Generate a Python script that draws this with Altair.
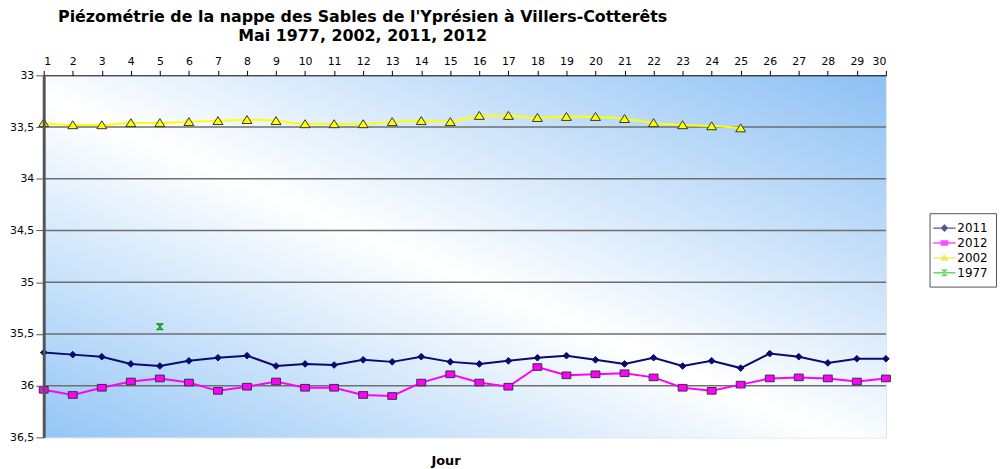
import altair as alt
import pandas as pd

days = list(range(1, 31))
v2011 = [35.68, 35.70, 35.72, 35.79, 35.81, 35.76, 35.73, 35.71, 35.81, 35.79,
         35.80, 35.75, 35.77, 35.72, 35.77, 35.79, 35.76, 35.73, 35.71, 35.75,
         35.79, 35.73, 35.81, 35.76, 35.83, 35.69, 35.72, 35.78, 35.74, 35.74]
v2012 = [36.04, 36.09, 36.02, 35.96, 35.93, 35.97, 36.05, 36.01, 35.96, 36.02,
         36.02, 36.09, 36.10, 35.97, 35.89, 35.97, 36.01, 35.82, 35.90, 35.89,
         35.88, 35.92, 36.02, 36.05, 35.99, 35.93, 35.92, 35.93, 35.96, 35.93]
v2002 = [33.46, 33.48, 33.48, 33.46, 33.46, 33.45, 33.44, 33.43, 33.44, 33.47,
         33.47, 33.47, 33.45, 33.44, 33.45, 33.39, 33.39, 33.41, 33.40, 33.40,
         33.42, 33.46, 33.48, 33.49, 33.51]
days1977 = [5]
v1977 = [35.43]
series = ["2011", "2012", "2002", "1977"]
yticks = [33, 33.5, 34, 34.5, 35, 35.5, 36, 36.5]
gridvals = [33.5, 34, 34.5, 35, 35.5, 36]

rows = []
for d, v in zip(days, v2011):
    rows.append({"Jour": d, "niveau": v, "serie": "2011"})
for d, v in zip(days, v2012):
    rows.append({"Jour": d, "niveau": v, "serie": "2012"})
for d, v in zip(days[:len(v2002)], v2002):
    rows.append({"Jour": d, "niveau": v, "serie": "2002"})
for d, v in zip(days1977, v1977):
    rows.append({"Jour": d, "niveau": v, "serie": "1977"})
df = pd.DataFrame(rows)

W, H = 849, 365
FONT = "DejaVu Sans"

xscale = alt.Scale(domain=[1, 30], nice=False, zero=False)
yscale = alt.Scale(domain=[33, 36.5], reverse=True, nice=False, zero=False)

xenc = alt.X("Jour:Q", scale=xscale, axis=alt.Axis(
    orient="top", values=days, format="d", grid=False, tickSize=5,
    tickColor="#000", domainColor="#000", domainWidth=1, labelPadding=4,
    labelFont=FONT, labelFontSize=11, labelColor="#000", zindex=1,
    title="Jour", titleFont=FONT, titleFontSize=13, titleFontWeight="bold",
    titleX=405, titleY=392, titleBaseline="alphabetic", titleColor="#000"))
yenc = alt.Y("niveau:Q", scale=yscale, axis=alt.Axis(
    values=yticks, grid=False, tickSize=8, tickColor="#555",
    domainColor="#555", domainWidth=3, labelPadding=2,
    labelExpr="replace(toString(datum.value), '.', ',')",
    labelFont=FONT, labelFontSize=11, labelColor="#000", zindex=1, title=None))

bg = alt.Chart(pd.DataFrame({"a": [0]})).mark_rect(
    color=alt.LinearGradient(
        gradient="linear", x1=0, y1=1, x2=1, y2=0,
        stops=[alt.GradientStop(offset=0, color="#94c6f6"),
               alt.GradientStop(offset=0.47, color="#ffffff"),
               alt.GradientStop(offset=1, color="#8cc0f4")])
).encode(x=alt.value(0), x2=alt.value(W), y=alt.value(0), y2=alt.value(H))

grid = alt.Chart(pd.DataFrame({"g": gridvals})).mark_rule(
    color="#6e6e6e", strokeWidth=1.5
).encode(y=alt.Y("g:Q", scale=yscale))

def series_layer(name, color, shape, fill, stroke, size, interp="linear", sw=2):
    return alt.Chart(df[df.serie == name]).mark_line(
        color=color, strokeWidth=sw, interpolate=interp,
        point=alt.OverlayMarkDef(shape=shape, filled=True, fill=fill,
                                 stroke=stroke, strokeWidth=1, size=size, opacity=1)
    ).encode(x=xenc, y=yenc)

diamond = "diamond"
square = "M-1,-0.75H1V0.75H-1Z"
triangle = "M-1,0.75L0,-0.85L1,0.75Z"
hourglass = "M-1,-0.9H1L-1,0.9H1Z"

l2011 = series_layer("2011", "#0a0a6e", diamond, "#0a0a6e", "#0a0a6e", 45)
l2012 = series_layer("2012", "#ff00ff", square, "#ff00ff", "#333333", 80)
l2002 = series_layer("2002", "#ffff00", triangle, "#ffff00", "#333333", 100, interp="monotone")
l1977 = alt.Chart(df[df.serie == "1977"]).mark_point(
    shape=hourglass, filled=True, fill="#22cc22", stroke="#118811",
    strokeWidth=1, size=45, opacity=1
).encode(x=xenc, y=yenc)

ln = "M-1.6,-0.1H1.6V0.1H-1.6Z"
leg_shapes = [
    ln + "M0,-0.55L0.55,0L0,0.55L-0.55,0Z",
    ln + "M-0.55,-0.4H0.55V0.4H-0.55Z",
    ln + "M-0.6,0.4L0,-0.5L0.6,0.4Z",
    ln + "M-0.5,-0.5H0.5L-0.5,0.5H0.5Z",
]
leg_colors = ["#0a0a6e", "#ff00ff", "#e6e600", "#22cc22"]

# legend-only layer: no rows drawn, the legend comes from the explicit scale domain
legend_layer = alt.Chart(df).transform_filter("false").mark_point(filled=True).encode(
    x=xenc, y=yenc,
    color=alt.Color("serie:N", scale=alt.Scale(domain=series, range=leg_colors),
                    legend=alt.Legend(title=None, orient="none", legendX=893, legendY=139,
                                      padding=8, strokeColor="#555", fillColor="#ffffff",
                                      symbolSize=196, symbolStrokeWidth=0,
                                      labelFont=FONT, labelFontSize=12, labelColor="#000",
                                      labelOffset=6, rowPadding=2)),
    shape=alt.Shape("serie:N", scale=alt.Scale(domain=series, range=leg_shapes)),
)

chart = alt.layer(bg, grid, l2011, l2012, l2002, l1977, legend_layer).properties(
    width=W, height=H,
    title=alt.TitleParams(
        text=["Piézométrie de la nappe des Sables de l'Yprésien à Villers-Cotterêts",
              "Mai 1977, 2002, 2011, 2012"],
        font=FONT, fontSize=16, fontWeight="bold", color="#000",
        anchor="middle", dx=-103, lineHeight=19, offset=12),
    autosize=alt.AutoSizeParams(type="none"),
    padding={"left": 36, "top": 66, "right": 112, "bottom": 30},
).configure_view(stroke="#8a8a8a", strokeWidth=3).configure(background="#ffffff")

chart.save("out.html", embed_options={"renderer": "svg", "actions": False})
